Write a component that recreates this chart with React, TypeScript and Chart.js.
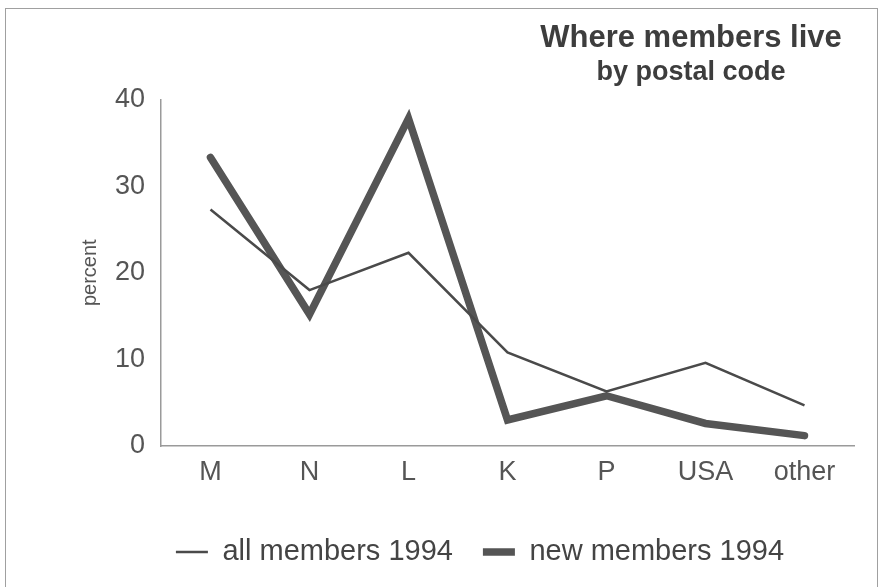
import React, { useEffect, useRef } from 'react';
import { Chart, registerables } from 'chart.js';

Chart.register(...registerables);

const CATEGORIES = ['M', 'N', 'L', 'K', 'P', 'USA', 'other'];
const ALL_MEMBERS = [27.3, 18.0, 22.3, 10.8, 6.3, 9.6, 4.7];
const NEW_MEMBERS = [33.3, 15.2, 37.8, 3.0, 5.8, 2.6, 1.2];
const Y_TICKS = [0, 10, 20, 30, 40];
const SERIES_LABELS = ['all members 1994', 'new members 1994'];
const TITLE = 'Where members live';
const SUBTITLE = 'by postal code';
const Y_TITLE = 'percent';

const FONT = '"Liberation Sans", Arial, Helvetica, sans-serif';

const cornerTitle = {
  id: 'cornerTitle',
  afterDraw(chart: any) {
    const ctx = chart.ctx;
    ctx.save();
    ctx.fillStyle = '#3d3d3d';
    ctx.textAlign = 'center';
    ctx.textBaseline = 'alphabetic';
    ctx.font = `bold 31px ${FONT}`;
    ctx.fillText(TITLE, 691, 47);
    ctx.font = `bold 27px ${FONT}`;
    ctx.fillText(SUBTITLE, 691, 80);
    ctx.restore();
  },
};

export default function App() {
  const canvasRef = useRef<HTMLCanvasElement | null>(null);

  useEffect(() => {
    document.body.style.margin = '0';
    const canvas = canvasRef.current;
    if (!canvas) return;
    const chart = new Chart(canvas, {
      type: 'line',
      data: {
        labels: CATEGORIES,
        datasets: [
          {
            label: SERIES_LABELS[0],
            data: ALL_MEMBERS,
            borderColor: '#4a4a4a',
            backgroundColor: '#4a4a4a',
            borderWidth: 2.5,
            pointRadius: 0,
            borderJoinStyle: 'miter',
            borderCapStyle: 'butt',
            tension: 0,
          },
          {
            label: SERIES_LABELS[1],
            data: NEW_MEMBERS,
            borderColor: '#555555',
            backgroundColor: '#555555',
            borderWidth: 7.5,
            pointRadius: 0,
            borderJoinStyle: 'miter',
            borderCapStyle: 'round',
            tension: 0,
          },
        ],
      },
      options: {
        responsive: false,
        animation: false,
        events: [],
        layout: { padding: { left: 106, right: 25, top: 99.5, bottom: 10.5 } },
        scales: {
          x: {
            type: 'category',
            offset: true,
            grid: { display: true, color: 'rgba(0,0,0,0)', drawTicks: false },
            border: { display: true, color: '#9a9a9a', width: 1.5 },
            ticks: {
              color: '#555555',
              font: { size: 27, family: FONT },
              padding: 10,
              maxRotation: 0,
              autoSkip: false,
            },
            afterFit: (s: any) => {
              s.height = 61.5;
            },
          },
          y: {
            min: 0,
            max: 40,
            grid: { display: true, color: 'rgba(0,0,0,0)', drawTicks: false },
            border: { display: true, color: '#9a9a9a', width: 1.5 },
            afterBuildTicks: (s: any) => {
              s.ticks = Y_TICKS.map((v) => ({ value: v }));
            },
            ticks: {
              color: '#555555',
              font: { size: 27, family: FONT },
              padding: 16,
            },
            title: {
              display: true,
              text: Y_TITLE,
              color: '#555555',
              font: { size: 20, family: FONT },
              padding: { top: -28, bottom: 0 },
            },
            afterFit: (s: any) => {
              s.width = 55;
            },
          },
        },
        plugins: {
          legend: {
            display: true,
            position: 'bottom',
            labels: {
              usePointStyle: true,
              pointStyle: 'line',
              pointStyleWidth: 32,
              padding: 30,
              color: '#444444',
              font: { size: 29, family: FONT },
            },
          },
          title: { display: false },
          tooltip: { enabled: false },
        },
      },
      plugins: [cornerTitle],
    } as any);
    return () => chart.destroy();
  }, []);

  return (
    <div style={{ position: 'relative', width: 879, height: 587, overflow: 'hidden', background: '#ffffff' }}>
      <canvas ref={canvasRef} width={879} height={587} style={{ display: 'block' }} />
      <div
        style={{
          position: 'absolute',
          left: 5,
          top: 8,
          width: 873,
          height: 640,
          boxSizing: 'border-box',
          border: '1.5px solid #a0a0a0',
          pointerEvents: 'none',
        }}
      />
    </div>
  );
}
